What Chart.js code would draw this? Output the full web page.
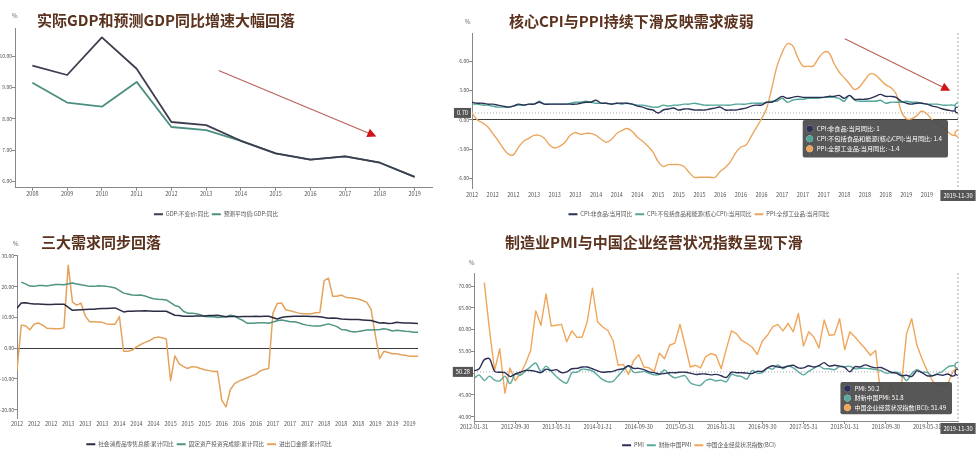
<!DOCTYPE html>
<html lang="zh-CN">
<head>
<meta charset="utf-8">
<title>经济指标图表</title>
<script src="https://cdn.jsdelivr.net/npm/chart.js@4.4.1/dist/chart.umd.min.js"></script>
<style>
html,body{margin:0;padding:0;background:#fff;}
body{position:relative;width:978px;height:452px;overflow:hidden;font-family:"Noto Sans CJK SC","Noto Sans",sans-serif;}
.wrap{position:absolute;}
.wrap canvas{display:block;}
.ttl{position:absolute;margin:0;font-size:15px;font-weight:700;line-height:1;color:#5a321e;white-space:nowrap;}
.unit{position:absolute;font-size:6px;line-height:1;color:#666;}
</style>
</head>
<body>
<div class="wrap" style="left:0;top:0;width:440px;height:227px"><canvas id="c1"></canvas></div>
<div class="wrap" style="left:440px;top:0;width:538px;height:227px"><canvas id="c2"></canvas></div>
<div class="wrap" style="left:0;top:225px;width:440px;height:232px"><canvas id="c3"></canvas></div>
<div class="wrap" style="left:440px;top:225px;width:538px;height:233px"><canvas id="c4"></canvas></div>

<h2 class="ttl" style="left:37px;top:12px">实际GDP和预测GDP同比增速大幅回落</h2>
<h2 class="ttl" style="left:509px;top:12.5px">核心CPI与PPI持续下滑反映需求疲弱</h2>
<h2 class="ttl" style="left:41px;top:233.5px">三大需求同步回落</h2>
<h2 class="ttl" style="left:505px;top:233.5px">制造业PMI与中国企业经营状况指数呈现下滑</h2>
<div class="unit" style="left:12px;top:13px">%</div>
<div class="unit" style="left:465px;top:19px">%</div>
<div class="unit" style="left:13px;top:241px">%</div>
<div class="unit" style="left:469px;top:260px">%</div>

<script>
// ---------------- Chart 1: GDP ----------------
const gdpYears = [2008, 2009, 2010, 2011, 2012, 2013, 2014, 2015, 2016, 2017, 2018, 2019];
const gdpActual = [9.7, 9.4, 10.6, 9.6, 7.9, 7.8, 7.3, 6.9, 6.7, 6.8, 6.6, 6.15];
const gdpForecast = [9.15, 8.52, 8.39, 9.18, 7.74, 7.64, 7.3, 6.9, 6.7, 6.8, 6.6, 6.15];
const gdpYTicks = [6, 7, 8, 9, 10];
const gdpArrowFrom = [2013.36, 9.54];
const gdpArrowTo = [2017.9, 7.44];

// ---------------- Chart 2: CPI / PPI (monthly 2012-01 .. 2019-11) ----------------
const cpiNonFood = [
  1.8, 1.7, 1.7, 1.6, 1.6, 1.5, 1.4, 1.3, 1.4, 1.6, 1.5, 1.6,
  1.6, 1.8, 1.6, 1.6, 1.6, 1.6, 1.6, 1.6, 1.6, 1.7, 1.8, 1.8,
  2.0, 1.7, 1.7, 1.6, 1.7, 1.7, 1.7, 1.6, 1.4, 1.3, 1.1, 1.0,
  0.7, 1.0, 1.1, 1.2, 1.0, 1.1, 1.1, 1.0, 1.0, 1.0, 1.1, 1.2,
  1.3, 1.0, 1.0, 1.0, 1.1, 1.2, 1.4, 1.5, 1.5, 1.8, 1.8, 2.1,
  2.4, 2.2, 2.3, 2.4, 2.3, 2.3, 2.3, 2.3, 2.3, 2.4, 2.4, 2.5,
  2.2, 2.5, 2.1, 2.1, 2.1, 2.2, 2.4, 2.6, 2.4, 2.4, 2.3, 1.9,
  1.7, 1.6, 1.7, 1.7, 1.6, 1.4, 1.3, 1.1, 1.0, 0.9, 1.0];
const cpiCore = [
  1.6, 1.6, 1.5, 1.5, 1.4, 1.3, 1.3, 1.3, 1.4, 1.5, 1.5, 1.6,
  1.6, 1.9, 1.6, 1.6, 1.6, 1.6, 1.6, 1.7, 1.8, 1.8, 1.9, 1.8,
  1.7, 1.7, 1.7, 1.6, 1.7, 1.6, 1.7, 1.6, 1.5, 1.5, 1.4, 1.3,
  1.3, 1.5, 1.4, 1.5, 1.5, 1.6, 1.6, 1.7, 1.6, 1.5, 1.5, 1.5,
  1.5, 1.5, 1.5, 1.6, 1.6, 1.6, 1.7, 1.7, 1.7, 1.8, 1.9, 1.9,
  2.2, 1.8, 2.0, 2.1, 2.1, 2.2, 2.2, 2.2, 2.3, 2.3, 2.3, 2.2,
  1.9, 2.5, 2.0, 1.9, 1.9, 1.9, 1.9, 2.0, 1.7, 1.8, 1.8, 1.8,
  1.9, 1.8, 1.8, 1.7, 1.6, 1.6, 1.6, 1.5, 1.5, 1.5, 1.4];
const ppiAll = [
  0.7, 0.0, -0.3, -0.7, -1.4, -2.1, -2.9, -3.5, -3.6, -2.8, -2.2, -1.9,
  -1.6, -1.6, -1.9, -2.6, -2.9, -2.7, -2.3, -1.6, -1.3, -1.5, -1.4, -1.4,
  -1.6, -2.0, -2.3, -2.0, -1.4, -1.1, -0.9, -1.2, -1.8, -2.2, -2.7, -3.3,
  -4.3, -4.8, -4.6, -4.6, -4.6, -4.8, -5.4, -5.9, -5.9, -5.9, -5.9, -5.9,
  -5.3, -4.9, -4.3, -3.4, -2.8, -2.6, -1.7, -0.8, 0.1, 1.2, 3.3, 5.5,
  6.9, 7.8, 7.6, 6.4, 5.5, 5.5, 5.5, 6.3, 6.9, 6.9, 5.8, 4.9,
  4.3, 3.7, 3.1, 3.4, 4.1, 4.7, 4.6, 4.1, 3.6, 3.3, 2.7, 0.9,
  0.1, 0.1, 0.4, 0.9, 0.6, 0.0, -0.3, -0.8, -1.2, -1.6, -1.4];
const cpiYTicks = [-6, -3, 0, 3, 6];
const cpiXTickIdx = [0, 4, 8, 12, 16, 20, 24, 28, 32, 36, 40, 44, 48, 52, 56, 60, 64, 68, 72, 76, 80, 84, 88, 92];
const cpiXTickLabels = ['2012','2012','2012','2013','2013','2013','2014','2014','2014','2015','2015','2015',
  '2016','2016','2016','2017','2017','2017','2018','2018','2018','2019','2019','2019'];
const cpiArrowFrom = [72.1, 8.3];
const cpiArrowTo = [92.5, 2.97];
const cpiCrossIdx = 94, cpiCrossDate = '2019-11-30', cpiCrossY = 0.70;

// ---------------- Chart 3: 三大需求 (monthly 2012-01 .. 2019-11) ----------------
const retailYtd = [
  13.0, 14.7, 14.8, 14.5, 14.4, 14.4, 14.3, 14.2, 14.2, 14.3, 14.3, 14.3,
  null, 12.3, 12.4, 12.5, 12.6, 12.7, 12.7, 12.8, 12.9, 12.9, 13.0, 13.1,
  null, 11.8, 12.0, 12.0, 12.1, 12.1, 12.2, 12.1, 12.0, 12.0, 12.0, 12.0,
  null, 10.7, 10.6, 10.4, 10.4, 10.4, 10.5, 10.5, 10.5, 10.6, 10.6, 10.7,
  null, 10.2, 10.3, 10.3, 10.2, 10.3, 10.3, 10.3, 10.4, 10.3, 10.4, 10.4,
  null, 9.5, 10.0, 10.2, 10.3, 10.4, 10.4, 10.4, 10.4, 10.3, 10.3, 10.2,
  null, 9.7, 9.8, 9.7, 9.5, 9.4, 9.3, 9.3, 9.3, 9.2, 9.1, 9.0,
  null, 8.2, 8.3, 8.0, 8.1, 8.4, 8.3, 8.2, 8.2, 8.1, 8.0];
const faiYtd = [
  null, 21.5, 20.9, 20.2, 20.1, 20.4, 20.4, 20.2, 20.5, 20.7, 20.7, 20.6,
  null, 21.2, 20.9, 20.6, 20.4, 20.1, 20.1, 20.3, 20.2, 20.1, 19.9, 19.6,
  null, 17.9, 17.6, 17.3, 17.2, 17.3, 17.0, 16.5, 16.1, 15.9, 15.8, 15.7,
  null, 13.9, 13.5, 12.0, 11.4, 11.4, 11.2, 10.9, 10.3, 10.2, 10.2, 10.0,
  null, 10.2, 10.7, 10.5, 9.6, 9.0, 8.1, 8.1, 8.2, 8.3, 8.3, 8.1,
  null, 8.9, 9.2, 8.9, 8.6, 8.6, 8.3, 7.8, 7.5, 7.3, 7.2, 7.2,
  null, 7.9, 7.5, 7.0, 6.1, 6.0, 5.5, 5.3, 5.4, 5.7, 5.9, 5.9,
  null, 6.1, 6.3, 6.1, 5.6, 5.8, 5.7, 5.5, 5.4, 5.2, 5.2];
const tradeYtd = [
  -7.1, 7.5, 7.3, 6.0, 7.8, 8.2, 7.5, 6.5, 6.4, 6.3, 6.3, 6.6,
  27.0, 15.0, 14.0, 14.6, 10.5, 8.6, 8.6, 8.5, 8.4, 7.9, 7.8, 7.8,
  10.3, -1.0, -1.0, -0.6, 0.4, 1.2, 1.9, 2.4, 3.3, 3.6, 3.4, 3.0,
  -10.6, -2.5, -5.0, -6.0, -6.6, -6.0, -6.1, -6.6, -7.0, -7.3, -7.6, -7.5,
  -16.9, -19.1, -13.5, -11.5, -10.7, -10.2, -9.6, -9.0, -8.5, -7.4, -6.9, -6.6,
  11.4, 14.5, 14.7, 12.5, 12.2, 11.8, 11.4, 11.2, 11.2, 11.2, 11.5, 11.6,
  22.0, 22.8, 16.9, 16.9, 17.3, 16.6, 16.4, 16.2, 16.0, 15.5, 14.9, 12.6,
  4.2, -3.4, -1.0, -1.4, -1.8, -1.8, -2.1, -2.3, -2.6, -2.6, -2.6];
const demandYTicks = [-20, -10, 0, 10, 20, 30];
const demandXTickIdx = cpiXTickIdx;
const demandXTickLabels = cpiXTickLabels;

// ---------------- Chart 4: PMI / BCI (monthly 2012-01 .. 2019-11) ----------------
const pmiNbs = [
  50.5, 51.0, 53.1, 53.3, 50.4, 50.2, 50.1, 49.2, 49.8, 50.2, 50.6, 50.6,
  50.4, 50.1, 50.9, 50.6, 50.8, 50.1, 50.3, 51.0, 51.1, 51.4, 51.4, 51.0,
  50.5, 50.2, 50.3, 50.4, 50.8, 51.0, 51.7, 51.1, 51.1, 50.8, 50.3, 50.1,
  49.8, 49.9, 50.1, 50.1, 50.2, 50.2, 50.0, 49.7, 49.8, 49.8, 49.6, 49.7,
  49.4, 49.0, 50.2, 50.1, 50.1, 50.0, 49.9, 50.4, 50.4, 51.2, 51.7, 51.4,
  51.3, 51.6, 51.8, 51.2, 51.2, 51.7, 51.4, 51.7, 52.4, 51.6, 51.8, 51.6,
  51.3, 50.3, 51.5, 51.4, 51.9, 51.5, 51.2, 51.3, 50.8, 50.2, 50.0, 49.4,
  49.5, 49.2, 50.5, 50.1, 49.4, 49.4, 49.7, 49.5, 49.8, 49.3, 50.2];
const pmiCaixin = [
  48.8, 49.6, 48.3, 49.3, 48.4, 48.2, 49.3, 47.6, 49.8, 49.5, 50.5, 51.5,
  52.3, 50.4, 51.6, 50.4, 49.2, 48.2, 47.7, 50.1, 50.2, 50.9, 50.8, 50.5,
  49.5, 48.5, 48.0, 48.1, 49.4, 50.7, 51.7, 50.2, 50.2, 50.4, 50.0, 49.6,
  49.7, 50.7, 49.6, 48.9, 49.2, 49.4, 47.8, 47.3, 47.2, 48.3, 48.6, 48.2,
  48.4, 48.0, 49.7, 49.4, 49.2, 48.6, 50.6, 50.0, 50.1, 51.2, 50.9, 51.9,
  51.0, 51.7, 51.2, 50.3, 49.6, 50.4, 51.1, 51.6, 51.0, 51.0, 50.8, 51.5,
  51.5, 51.6, 51.0, 51.1, 51.1, 51.0, 50.8, 50.6, 50.0, 50.1, 50.2, 49.7,
  48.3, 49.9, 50.8, 50.2, 50.2, 49.4, 49.9, 50.4, 51.4, 51.7, 51.8];
const bciIndex = [
  null, null, 70.8, 60.0, 50.6, 55.6, 45.4, 51.2, 48.3, 49.8, 52.2, 55.2,
  64.3, 61.0, 68.2, 60.8, 61.0, 61.2, 57.2, 59.7, 58.2, 58.3, 61.8, 69.5,
  61.8, 60.6, 59.8, 57.5, 51.8, 52.0, 49.7, 52.9, 54.2, 51.4, 51.2, 50.4,
  54.6, 53.3, 56.4, 56.9, 61.2, 56.4, 51.4, 51.8, 51.2, 53.8, 54.5, 54.1,
  51.0, 55.5, 59.7, 59.0, 57.5, 56.8, 56.0, 54.3, 57.4, 58.7, 60.6, 61.2,
  59.7, 61.4, 59.5, 63.7, 56.2, 59.5, 58.3, 55.8, 62.2, 58.7, 58.8, 62.5,
  55.4, 59.5, 58.3, 56.9, 55.6, 54.1, 55.2, 45.0, 43.0, 47.5, 43.5, 47.0,
  59.0, 62.5, 56.5, 53.3, 50.6, 48.3, 47.0, 47.3, 47.5, 50.3, 51.49];
const pmiYTicks = [40, 45, 50, 55, 60, 65, 70];
const pmiXTickIdx = [0, 8, 16, 24, 32, 40, 48, 56, 64, 72, 80, 88];
const pmiXTickLabels = ['2012-01-31','2012-09-30','2013-05-31','2014-01-31','2014-09-30','2015-05-31',
  '2016-01-31','2016-09-30','2017-05-31','2018-01-31','2018-09-30','2019-05-31'];
const pmiCrossIdx = 94, pmiCrossDate = '2019-11-30', pmiCrossY = 50.28;

// ---------------- helpers ----------------
Chart.defaults.font.family = '"Noto Sans CJK SC","Noto Sans",sans-serif';
Chart.defaults.color = '#555';
Chart.defaults.animation = false;
Chart.defaults.events = [];

const byIndex = arr => arr.map((v, i) => ({x: i, y: v}));
const byYear = arr => arr.map((v, i) => ({x: gdpYears[i], y: v}));

function line(label, data, color, width, tension, extra) {
  return Object.assign({
    label, data, borderColor: color, backgroundColor: color, borderWidth: width,
    tension, pointRadius: 0, pointHoverRadius: 3, pointHoverBorderWidth: 1.2,
    pointHoverBackgroundColor: '#fff', pointHoverBorderColor: color,
    borderJoinStyle: 'round', fill: false
  }, extra || {});
}

function yAxis(min, max, ticks, width, zeroLine) {
  return {
    type: 'linear', min, max,
    afterBuildTicks: s => { s.ticks = ticks.map(v => ({value: v})); },
    afterFit: s => { s.width = width; },
    ticks: {font: {size: 5}, color: '#555', padding: 0, callback: v => Number(v).toFixed(2)},
    grid: {
      drawOnChartArea: !!zeroLine,
      color: c => (zeroLine && c.tick && c.tick.value === 0) ? '#3c3c3c' : 'rgba(0,0,0,0)',
      drawTicks: true, tickLength: 3, tickColor: '#888', lineWidth: 1
    },
    border: {display: true, color: '#888', width: 1}
  };
}

function xAxis(min, max, tickVals, labels, height, showLine, showTicks, pad) {
  return {
    type: 'linear', min, max,
    afterBuildTicks: s => { s.ticks = tickVals.map(v => ({value: v})); },
    afterFit: s => { s.height = height; },
    ticks: {autoSkip: false, maxRotation: 0, minRotation: 0, font: {size: 5.5}, color: '#555',
      padding: pad, callback: (v, i) => labels[i]},
    grid: {display: showTicks, drawOnChartArea: false, drawTicks: showTicks, tickLength: 3, tickColor: '#888'},
    border: {display: showLine, color: '#888', width: 1}
  };
}

function legend() {
  return {
    position: 'bottom',
    labels: {
      boxWidth: 9, boxHeight: 2, padding: 3, color: '#555', font: {size: 5.7},
      generateLabels(chart) {
        const items = Chart.defaults.plugins.legend.labels.generateLabels(chart);
        items.forEach(it => { it.fillStyle = it.strokeStyle; it.lineWidth = 0; });
        return items;
      }
    }
  };
}

const tooltipPins = {c2: {dx: -12, dy: 87}, c4: {dx: -8, dy: 109}};
Chart.Tooltip.positioners.pinned = function () {
  const a = this.chart.chartArea;
  const p = tooltipPins[this.chart.canvas.id];
  return {x: a.right + p.dx, y: a.top + p.dy, xAlign: 'right', yAlign: 'top'};
};

function tooltip(fontSize, pad, spacing) {
  return {
    enabled: true, position: 'pinned', xAlign: 'right', yAlign: 'top',
    caretSize: 0, caretPadding: 0, cornerRadius: 2,
    backgroundColor: 'rgba(74,74,74,0.93)', bodyColor: '#fff',
    bodyFont: {size: fontSize}, padding: {top: pad, bottom: pad, left: 4, right: 6},
    bodySpacing: spacing, boxWidth: 6, boxHeight: 6, boxPadding: 2,
    usePointStyle: true, displayColors: true,
    callbacks: {
      title: () => [],
      label: c => `${c.dataset.label}: ${c.parsed.y}`,
      labelColor: c => ({borderColor: c.dataset.borderColor, backgroundColor: c.dataset.borderColor}),
      labelPointStyle: () => ({pointStyle: 'circle', rotation: 0})
    }
  };
}

const arrowPlugin = {
  id: 'trendArrow',
  afterDatasetsDraw(chart, args, o) {
    if (!o || !o.from) return;
    const {ctx, scales: {x, y}} = chart;
    const x1 = x.getPixelForValue(o.from[0]), y1 = y.getPixelForValue(o.from[1]);
    const x2 = x.getPixelForValue(o.to[0]), y2 = y.getPixelForValue(o.to[1]);
    const ang = Math.atan2(y2 - y1, x2 - x1);
    ctx.save();
    ctx.strokeStyle = '#b8605a'; ctx.lineWidth = 1.1;
    ctx.beginPath(); ctx.moveTo(x1, y1); ctx.lineTo(x2 - Math.cos(ang) * 3, y2 - Math.sin(ang) * 3); ctx.stroke();
    const L = 9, W = 4.5;
    const bx = x2 - Math.cos(ang) * L, by = y2 - Math.sin(ang) * L;
    ctx.fillStyle = '#d0141a';
    ctx.beginPath();
    ctx.moveTo(x2, y2);
    ctx.lineTo(bx + Math.sin(ang) * W, by - Math.cos(ang) * W);
    ctx.lineTo(bx - Math.sin(ang) * W, by + Math.cos(ang) * W);
    ctx.closePath(); ctx.fill();
    ctx.restore();
  }
};

const crossPlugin = {
  id: 'crossPointer',
  beforeDatasetsDraw(chart, args, o) {
    if (!o || o.xValue == null) return;
    const {ctx, chartArea: a, scales: {x, y}} = chart;
    const px = x.getPixelForValue(o.xValue), py = y.getPixelForValue(o.yValue);
    ctx.save();
    ctx.strokeStyle = '#a8a8a8'; ctx.lineWidth = 1; ctx.setLineDash([2, 2]);
    ctx.beginPath(); ctx.moveTo(px, a.top); ctx.lineTo(px, a.bottom); ctx.stroke();
    ctx.setLineDash([1, 2]);
    ctx.beginPath(); ctx.moveTo(a.left, py); ctx.lineTo(a.right, py); ctx.stroke();
    ctx.restore();
  },
  afterDraw(chart, args, o) {
    if (!o || o.xValue == null) return;
    const {ctx, chartArea: a, scales: {x, y}} = chart;
    const px = x.getPixelForValue(o.xValue), py = y.getPixelForValue(o.yValue);
    ctx.save();
    ctx.font = '5.7px "Noto Sans CJK SC","Noto Sans",sans-serif';
    ctx.textBaseline = 'middle'; ctx.textAlign = 'center';
    let w = ctx.measureText(o.xLabel).width + 6, h = 11;
    const bx = Math.min(px - w / 2, chart.width - w);
    ctx.fillStyle = '#555'; ctx.fillRect(bx, a.bottom + 2, w, h);
    ctx.fillStyle = '#fff'; ctx.fillText(o.xLabel, bx + w / 2, a.bottom + 2 + h / 2);
    w = ctx.measureText(o.yLabel).width + 6; h = 10;
    ctx.fillStyle = '#555'; ctx.fillRect(a.left - 1 - w, py - h / 2, w, h);
    ctx.fillStyle = '#fff'; ctx.fillText(o.yLabel, a.left - 1 - w / 2, py);
    ctx.restore();
  }
};

function activate(chart, idx) {
  const act = chart.data.datasets.map((d, i) => ({datasetIndex: i, index: idx}));
  chart.setActiveElements(act);
  chart.tooltip.setActiveElements(act, {x: 0, y: 0});
  chart.update();
}

// ---------------- Chart 1 ----------------
new Chart(document.getElementById('c1'), {
  type: 'line',
  data: {datasets: [
    line('GDP:不变价:同比', byYear(gdpActual), '#3d3d4f', 1.8, 0),
    line('预测平均值:GDP:同比', byYear(gdpForecast), '#4c8f80', 1.8, 0)
  ]},
  options: {
    responsive: true, maintainAspectRatio: false,
    layout: {padding: {top: 28, right: 8, left: 0, bottom: 0}},
    scales: {
      x: xAxis(2007.5, 2019.5, gdpYears, gdpYears.map(String), 20.5, true, true, 0),
      y: yAxis(5.8, 10.9, gdpYTicks, 15, false)
    },
    plugins: {legend: legend(), tooltip: {enabled: false},
      trendArrow: {from: gdpArrowFrom, to: gdpArrowTo}}
  },
  plugins: [arrowPlugin]
});

// ---------------- Chart 2 ----------------
const chart2 = new Chart(document.getElementById('c2'), {
  type: 'line',
  data: {datasets: [
    line('CPI:非食品:当月同比', byIndex(cpiNonFood), '#2b3054', 1.4, 0.35),
    line('CPI:不包括食品和能源(核心CPI):当月同比', byIndex(cpiCore), '#4fa597', 1.4, 0.35),
    line('PPI:全部工业品:当月同比', byIndex(ppiAll), '#eba65e', 1.4, 0.35)
  ]},
  options: {
    responsive: true, maintainAspectRatio: false,
    layout: {padding: {top: 33, right: 20, left: 0, bottom: 0}},
    scales: {
      x: xAxis(0, 94, cpiXTickIdx, cpiXTickLabels, 20.3, false, false, 4),
      y: yAxis(-7, 8.9, cpiYTicks, 32, true)
    },
    plugins: {legend: legend(), tooltip: tooltip(6.2, 5, 2.6),
      trendArrow: {from: cpiArrowFrom, to: cpiArrowTo},
      crossPointer: {xValue: cpiCrossIdx, yValue: cpiCrossY, xLabel: cpiCrossDate, yLabel: cpiCrossY.toFixed(2)}}
  },
  plugins: [crossPlugin, arrowPlugin]
});
activate(chart2, cpiCrossIdx);

// ---------------- Chart 3 ----------------
new Chart(document.getElementById('c3'), {
  type: 'line',
  data: {datasets: [
    line('社会消费品零售总额:累计同比', byIndex(retailYtd), '#2b2d44', 1.5, 0, {spanGaps: true}),
    line('固定资产投资完成额:累计同比', byIndex(faiYtd), '#4f9482', 1.5, 0, {spanGaps: true}),
    line('进出口金额:累计同比', byIndex(tradeYtd), '#e3a35c', 1.5, 0, {spanGaps: true})
  ]},
  options: {
    responsive: true, maintainAspectRatio: false,
    layout: {padding: {top: 30, right: 22, left: 0, bottom: 0}},
    scales: {
      x: xAxis(0, 94, demandXTickIdx, demandXTickLabels, 20.3, false, false, 3),
      y: yAxis(-22.7, 30.3, demandYTicks, 17, true)
    },
    plugins: {legend: legend(), tooltip: {enabled: false}}
  }
});

// ---------------- Chart 4 ----------------
const chart4 = new Chart(document.getElementById('c4'), {
  type: 'line',
  data: {datasets: [
    line('PMI', byIndex(pmiNbs), '#2c2f56', 1.4, 0.3),
    line('财新中国PMI', byIndex(pmiCaixin), '#5aa99e', 1.4, 0.3),
    line('中国企业经营状况指数(BCI)', byIndex(bciIndex), '#efa55a', 1.4, 0)
  ]},
  options: {
    responsive: true, maintainAspectRatio: false,
    layout: {padding: {top: 48, right: 20, left: 0, bottom: 0}},
    scales: {
      x: xAxis(0, 94, pmiXTickIdx, pmiXTickLabels, 18.3, true, true, 0),
      y: yAxis(39, 73, pmiYTicks, 34, false)
    },
    plugins: {legend: legend(), tooltip: tooltip(6, 3, 2.3),
      crossPointer: {xValue: pmiCrossIdx, yValue: pmiCrossY, xLabel: pmiCrossDate, yLabel: pmiCrossY.toFixed(2)}}
  },
  plugins: [crossPlugin]
});
activate(chart4, pmiCrossIdx);
</script>
</body>
</html>
